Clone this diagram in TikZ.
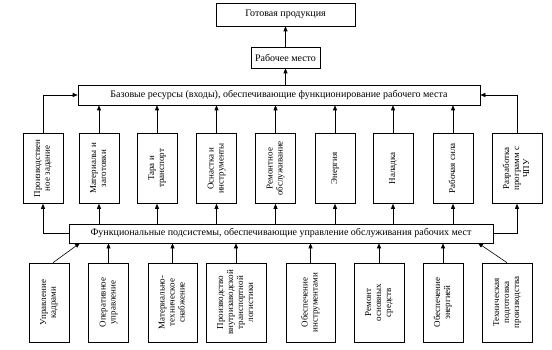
\documentclass[tikz,border=0pt]{standalone}
\usepackage{fontspec}
\setmainfont{Liberation Serif}
\usetikzlibrary{arrows.meta}
\newcommand{\vtext}[1]{\rotatebox{90}{\begin{tabular}{@{}c@{}}#1\end{tabular}}}

\begin{document}
\begin{tikzpicture}[x=1pt, y=-1pt,
  every node/.style={font=\fontsize{10}{11}\selectfont},
  hbox/.style={draw, line width=0.6pt, inner sep=1pt},
  vbox/.style={draw, line width=0.6pt, inner sep=0pt,
    font=\fontsize{9}{10}\selectfont},
  arr/.style={line width=0.6pt, -{Triangle[length=5pt,width=4pt]}}]
  \useasboundingbox (0,0) rectangle (552,350);
  % horizontal boxes
  \node[hbox, minimum width=139, minimum height=23] (prod) at (285.5,14.5) {Готовая продукция};
  \node[hbox, minimum width=69, minimum height=21] (work) at (285.5,57.5) {Рабочее место};
  \node[hbox, minimum width=402, minimum height=20] (base) at (279,95)
    {Базовые ресурсы (входы), обеспечивающие функционирование рабочего места};
  \node[hbox, minimum width=424, minimum height=19] (fun) at (281,233.5)
    {Функциональные подсистемы, обеспечивающие управление обслуживания рабочих мест};
  \draw[arr] (work.north) -- (prod.south);
  \draw[arr] (work.south |- base.north) -- (work.south);
  % resources
  \foreach \n/\x/\w/\txt in {1/43/40/{Производствен\\ное задание},
      2/99/40/{Материалы и\\заготовки}, 3/157/40/{Тара и\\транспорт},
      4/216.5/40/{Оснастка и\\инструменты}, 5/275.5/40/{Ремонтное\\обслуживание},
      6/335/40/{Энергия}, 7/393/40/{Наладка}, 8/453/40/{Рабочая сила},
      9/517/50/{Разработка\\программ с\\ЧПУ}} {
    \node[vbox, minimum width=\w, minimum height=70] (m\n) at (\x,168.5) {\vtext{\txt}};
  }
  \foreach \n in {2,...,8} {
    \draw[arr] (m\n.north) -- (m\n.north |- base.south);
    \draw[arr] (m\n.south |- fun.north) -- (m\n.south);
  }
  \draw[arr] (m1.north) |- (base.west);
  \draw[arr] (m9.north) |- (base.east);
  \draw[arr] (fun.west) -| (m1.south);
  \draw[arr] (fun.east) -| (m9.south);
  % subsystems
  \foreach \n/\x/\w/\txt in {1/49/40/{Управление\\кадрами},
      2/108.5/40/{Оперативное\\управление},
      3/172.5/49/{Материально-\\техническое\\снабжение},
      4/236/60/{Производство\\внутризаводской\\транспортной\\логистики},
      5/310.5/49/{Обеспечение\\инструментами},
      6/379/50/{Ремонт\\основных\\средств},
      7/443/40/{Обеспечение\\энергией},
      8/507/50/{Техническая\\подготовка\\производства}} {
    \node[vbox, minimum width=\w, minimum height=79] (b\n) at (\x,302.5) {\vtext{\txt}};
  }
  \foreach \n in {2,...,7} {
    \draw[arr] (b\n.north) -- (b\n.north |- fun.south);
  }
  \coordinate (f1) at (80,243);
  \coordinate (f8) at (478,243);
  \draw[arr] ([xshift=4pt]b1.north) -- (f1);
  \draw[arr] (b8.north) -- (f8);
\end{tikzpicture}
\end{document}
